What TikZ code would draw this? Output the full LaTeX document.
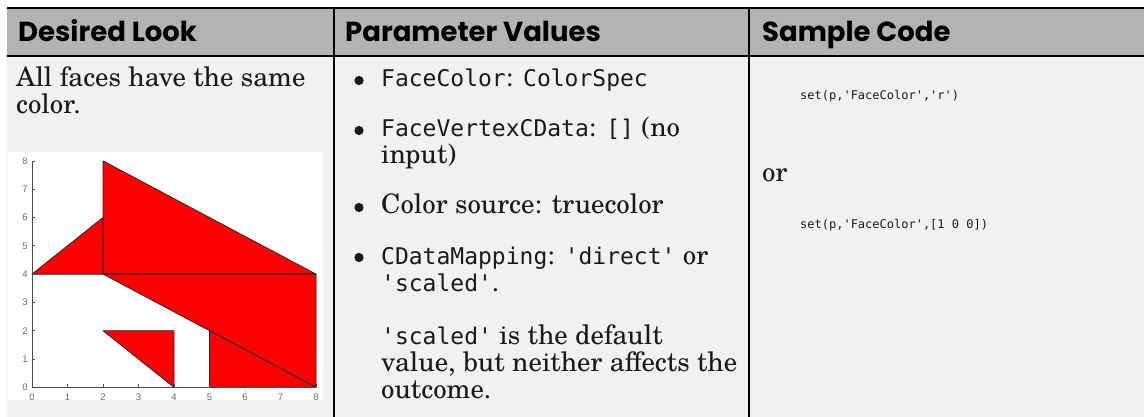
\documentclass[tikz,border=0pt]{standalone}
\usepackage{fontspec}
\setmainfont{texgyreschola-regular.otf}
\newfontfamily\hdrfnt{Poppins}
\newfontfamily\colmono{DejaVu Sans Mono}
\newfontfamily\tickfnt{Liberation Sans}
\definecolor{hdrgray}{HTML}{B3B3B3}
\definecolor{bodygray}{HTML}{F1F1F1}
\definecolor{axgray}{HTML}{4A4A4A}
\definecolor{tickgray}{HTML}{6A6A6A}
\definecolor{patchred}{HTML}{FF0000}
\definecolor{inkgray}{HTML}{1A1A1A}
% inline monospace for property names and values
\newcommand{\pmono}[1]{{\colmono\fontsize{23}{23}\selectfont #1}}
\newcommand{\sq}{\textquotesingle}
\tikzset{
  hdr/.style={anchor=base west, inner sep=0pt, font=\hdrfnt\bfseries\fontsize{27.5}{27.5}\selectfont},
  bodytext/.style={anchor=base west, inner sep=0pt, text=inkgray, font=\fontsize{26.8}{27}\selectfont},
  codetext/.style={anchor=base west, inner sep=0pt, text=inkgray, font=\colmono\fontsize{12}{12}\selectfont},
  rule/.style={line width=#1, black},
  bulletdot/.style={fill=inkgray},
  patch/.style={fill=patchred, draw=black!85, line width=0.8pt, line join=round},
  axisline/.style={draw=axgray, line width=0.9pt},
  ticklabel/.style={inner sep=0pt, text=tickgray, font=\tickfnt\fontsize{9.5}{9.5}\selectfont}
}
\begin{document}
\begin{tikzpicture}[x=1pt, y=-1pt]
\useasboundingbox (0,0) rectangle (1144,417);
\fill[white] (0,0) rectangle (1144,417);

% table background
\fill[hdrgray] (7,8) rectangle (1144,56);
\fill[bodygray] (7,56) rectangle (1144,417);

% rules
\draw[rule=2.4pt] (7,7.8) -- (1144,7.8);
\draw[rule=1.3pt] (7,56) -- (1144,56);
\draw[rule=2pt] (334,8) -- (334,417);
\draw[rule=2pt] (749,8) -- (749,417);

% header row
\node[hdr] (h1) at (18,42) {Desired Look};
\node[hdr] (h2) at (345,42) {Parameter Values};
\node[hdr] (h3) at (762,42) {Sample Code};

% column 1: description
\node[bodytext] (d1) at (16,87) {All faces have the same};
\node[bodytext] (d2) at (16,114) {color.};

% plot area
\fill[white] (8,152) rectangle (323,400);
\begin{scope}[shift={(32pt,-387.3pt)}, x=35.5pt, y=28.3pt]
  \filldraw[patch] (0,4) -- (2,6) -- (2,4) -- cycle;
  \filldraw[patch] (2,4) -- (2,8) -- (8,4) -- cycle;
  \filldraw[patch] (2,4) -- (8,4) -- (8,0) -- cycle;
  \filldraw[patch] (5,0) -- (5,2) -- (8,0) -- cycle;
  \filldraw[patch] (2,2) -- (4,2) -- (4,0) -- cycle;
  \draw[axisline] (0,8) -- (0,0) -- (8,0);
  \foreach \i in {0,...,8} {
    \draw[axisline, line width=0.7pt] (\i,0) -- ++(0,3pt);
    \draw[axisline, line width=0.7pt] (0,\i) -- ++(3pt,0);
    \node[ticklabel] (xl\i) at ([yshift=-9.5pt]\i,0) {\i};
    \node[ticklabel] (yl\i) at ([xshift=-7pt]0,\i) {\i};
  }
\end{scope}

% column 2: parameter values
\fill[bulletdot] (359,80.5) circle (4.6);
\node[bodytext] (p1) at (381,87) {\pmono{FaceColor}: \pmono{ColorSpec}};
\fill[bulletdot] (359,130.5) circle (4.6);
\node[bodytext] (p2) at (381,137) {\pmono{FaceVertexCData}: \pmono{[]} (no};
\node[bodytext] (p3) at (381,164) {input)};
\fill[bulletdot] (359,207.5) circle (4.6);
\node[bodytext] (p4) at (381,214) {Color source: truecolor};
\fill[bulletdot] (359,257.5) circle (4.6);
\node[bodytext] (p5) at (381,264) {\pmono{CDataMapping}: \pmono{\sq direct\sq} or};
\node[bodytext] (p6) at (381,291) {\pmono{\sq scaled\sq}.};
\node[bodytext] (p7) at (381,344) {\pmono{\sq scaled\sq} is the default};
\node[bodytext] (p8) at (381,371) {value, but neither affects the};
\node[bodytext] (p9) at (381,398) {outcome.};

% column 3: sample code
\node[codetext] (c1) at (800,100) {set(p,\sq FaceColor\sq,\sq r\sq)};
\node[bodytext] (c2) at (762,182) {or};
\node[codetext] (c3) at (800,229) {set(p,\sq FaceColor\sq,[1 0 0])};
\end{tikzpicture}
\end{document}
